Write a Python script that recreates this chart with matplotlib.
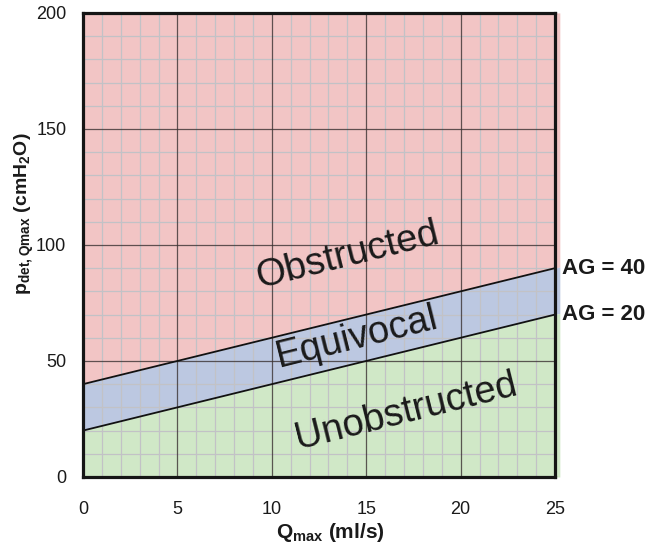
import numpy as np
import matplotlib
matplotlib.use('Agg')
import matplotlib.pyplot as plt

plt.rcParams['font.family'] = ['Liberation Sans', 'DejaVu Sans']
plt.rcParams['mathtext.fontset'] = 'custom'
plt.rcParams['mathtext.rm'] = 'Liberation Sans:bold'
plt.rcParams['mathtext.bf'] = 'Liberation Sans:bold'
plt.rcParams['mathtext.default'] = 'rm'

# Data: ICS nomogram lines  p = AG + 2*Q
q_range = [0, 25]
ag_upper = 40
ag_lower = 20
slope = 2
x_ticks = [0, 5, 10, 15, 20, 25]
y_ticks = [0, 50, 100, 150, 200]
region_labels = ['Obstructed', 'Equivocal', 'Unobstructed']
region_pos = [(14.0, 95.5), (14.5, 60.0), (17.1, 28.0)]

PINK = '#f2c5c5'
BLUE = '#bcc8e1'
GREEN = '#d0e8c7'

fig = plt.figure(figsize=(6.64, 5.46), dpi=100)
ax = fig.add_axes([0.125, 0.1264, 0.711, 0.85])

q = np.array([q_range[0], q_range[1] + 0.25])
upper = ag_upper + slope * q
lower = ag_lower + slope * q

ax.fill_between(q, upper, 200, color=PINK, lw=0, zorder=0, clip_on=False)
ax.fill_between(q, lower, upper, color=BLUE, lw=0, zorder=0, clip_on=False)
ax.fill_between(q, 0, lower, color=GREEN, lw=0, zorder=0, clip_on=False)

# minor and major grid
for xv in range(0, 26):
    if xv % 5:
        ax.axvline(xv, color='#c2c2c6', lw=0.9, zorder=1)
for yv in range(0, 201, 10):
    if yv % 50:
        ax.axhline(yv, color='#c2c2c6', lw=0.9, zorder=1)
for xv in x_ticks[1:-1]:
    ax.axvline(xv, color='#3a3232', lw=0.9, alpha=0.8, zorder=2)
for yv in y_ticks[1:-1]:
    ax.axhline(yv, color='#3a3232', lw=0.9, alpha=0.8, zorder=2)

qq = np.array(q_range)
ax.plot(qq, ag_upper + slope * qq, color='#111111', lw=1.3, zorder=3)
ax.plot(qq, ag_lower + slope * qq, color='#111111', lw=1.3, zorder=3)

for lab, (x, y) in zip(region_labels, region_pos):
    ax.text(x, y, lab, fontsize=27.5, rotation=14, ha='center', va='center',
            color='#1a1a1a', rotation_mode='anchor', zorder=4)

ax.text(25.35, ag_upper + slope * 25, 'AG = 40', fontsize=16, fontweight='bold',
        ha='left', va='center', color='#1a1a1a')
ax.text(25.35, ag_lower + slope * 25, 'AG = 20', fontsize=16, fontweight='bold',
        ha='left', va='center', color='#1a1a1a')

ax.set_xlim(0, 25)
ax.set_ylim(0, 200)
ax.set_xticks(x_ticks)
ax.set_yticks(y_ticks)
ax.tick_params(length=0, labelsize=13, colors='#1a1a1a')
ax.tick_params(axis='x', pad=17)
ax.tick_params(axis='y', pad=12)

for s in ax.spines.values():
    s.set_linewidth(2.3)
    s.set_color('#151515')
    s.set_zorder(5)

fig.text(330 / 664, 1 - 533 / 546, r'Q$_{max}$ (ml/s)', fontsize=15,
         fontweight='bold', ha='center', va='center', color='#1a1a1a')
fig.text(24 / 664, 1 - 214 / 546, r'p$_{det,Qmax}$ (cmH$_2$O)', fontsize=14,
         fontweight='bold', rotation=90, ha='center', va='center', color='#1a1a1a')

fig.savefig('out.png', dpi=100)
